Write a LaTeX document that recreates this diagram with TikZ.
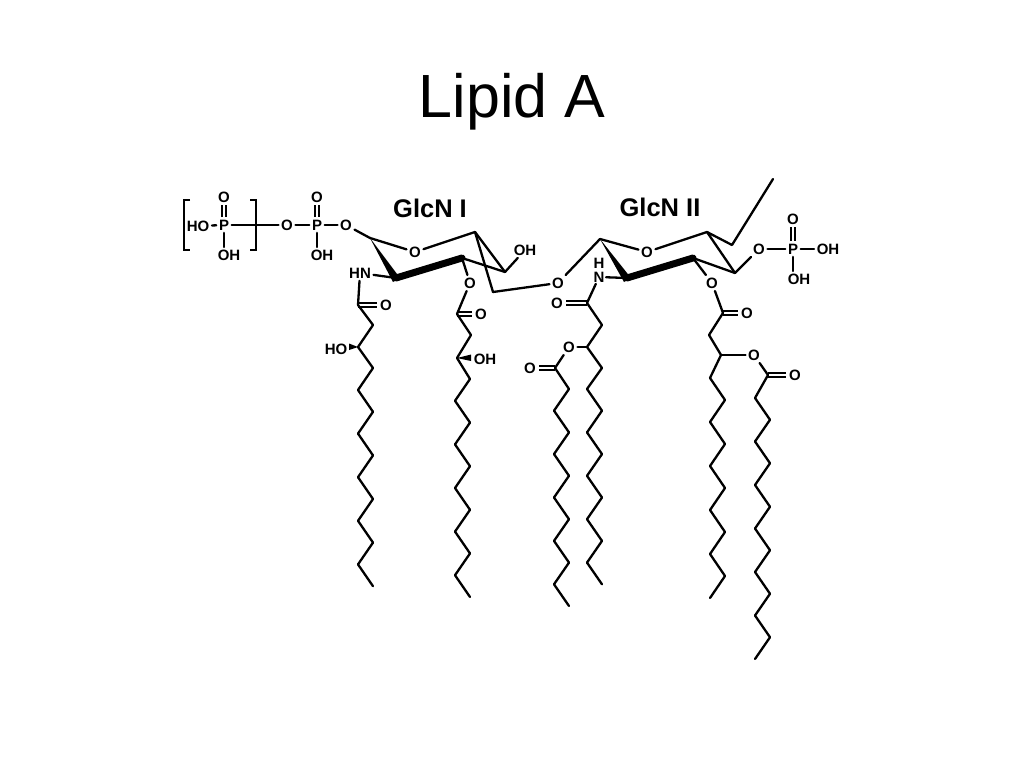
\documentclass[tikz,border=0pt]{standalone}
\usepackage{fontspec}
\setmainfont{Liberation Sans}
\usetikzlibrary{calc}
\tikzset{
  atom/.style={inner sep=2.5pt,font=\fontsize{15}{15}\bfseries\selectfont},
  glcn/.style={inner sep=0pt,font=\fontsize{25.5}{25.5}\bfseries\selectfont},
  bond/.style={line width=2.3pt,line cap=round,line join=round},
  dbond/.style={double,double distance=2.6pt,line width=1.7pt},
  backbone/.style={line width=7pt,line cap=round}
}
% zigzag tail: name, x, dx, y, number of bonds, step
\newcommand{\tailchain}[6]{
  \coordinate (#1-0) at (#2,#4);
  \foreach \i [remember=\i as \j (initially 0)] in {1,...,#5}{
    \coordinate (#1-\i) at ({#2+#3*mod(\i,2)},{#4+#6*\i});
    \draw[bond] (#1-\j) -- (#1-\i);
  }
}
\begin{document}
\begin{tikzpicture}[x=1pt,y=-1pt]
  \useasboundingbox (0,0) rectangle (1024,768);
  \node[inner sep=0pt,font=\fontsize{61}{61}\selectfont] (title) at (512,102) {Lipid A};
  \node[glcn] (glcnI) at (430,208) {GlcN I};
  \node[glcn] (glcnII) at (660,207) {GlcN II};
  % phosphates, left
  \node[atom] (hoA) at (198,226) {HO};
  \node[atom] (pA) at (224,225) {P};
  \node[atom] (oA) at (224,197) {O};
  \node[atom] (ohA) at (229,255) {OH};
  \node[atom] (oB) at (287,225) {O};
  \node[atom] (pB) at (317,225) {P};
  \node[atom] (oC) at (317,197) {O};
  \node[atom] (ohB) at (322,255) {OH};
  \node[atom] (oD) at (346,225) {O};
  \draw[line width=1.6pt] (190,200) -- (184,200) -- (184,250) -- (190,250);
  \draw[line width=1.6pt] (250,200) -- (256,200) -- (256,250) -- (250,250);
  \draw[dbond] (pA) -- (oA);
  \draw[dbond] (pB) -- (oC);
  \draw[bond] (hoA) -- (pA);
  \draw[bond] (pA) -- (ohA.north -| pA);
  \draw[bond] (pA) -- (oB);
  \draw[bond] (oB) -- (pB);
  \draw[bond] (pB) -- (ohB.north -| pB);
  \draw[bond] (pB) -- (oD);
  % ring I
  \coordinate (c1) at (370,238);
  \coordinate (c2) at (396,278);
  \coordinate (c3) at (462,258);
  \coordinate (c4) at (505,272);
  \coordinate (c5) at (475,232);
  \coordinate (c6) at (493,292);
  \node[atom] (oRing) at (415,252) {O};
  \node[atom] (ohRing) at (525,250) {OH};
  \node[atom] (nh) at (360,273) {HN};
  \node[atom] (oEster) at (470,283) {O};
  \node[atom] (oLink) at (558,283) {O};
  \draw[bond] (oD) -- (c1);
  \draw[bond] (c1) -- (oRing);
  \draw[bond] (oRing) -- (c5);
  \fill (c1) -- ($(c2)+(-3,4)$) -- ($(c2)+(4,0)$) -- cycle;
  \draw[backbone] (c2) -- (c3);
  \draw[bond] (c3) -- (c4);
  \draw[bond] (c5) -- (c4);
  \draw[bond] (c5) -- (c6);
  \draw[bond] (c4) -- (ohRing);
  \draw[bond] (c6) -- (oLink);
  \draw[bond] (c3) -- (oEster);
  \draw[bond] (nh) -- (c2);
  % acyl chains on ring I
  \coordinate (d1) at (358,305);
  \coordinate (d2) at (373,325);
  \coordinate (d3) at (358,347);
  \coordinate (d4) at (373,368);
  \node[atom] (oAmide) at (386,305) {O};
  \node[atom] (hoChain) at (336,349) {HO};
  \draw[dbond] (d1) -- (oAmide);
  \draw[bond] (nh) -- (d1);
  \draw[bond] (d1) -- (d2) -- (d3) -- (d4);
  \fill (d3) -- ($(d3)+(-9,-3.5)$) -- ($(d3)+(-9,3)$) -- cycle;
  \tailchain{tailA}{358}{15}{390}{9}{21.8}
  \draw[bond] (d4) -- (tailA-0);
  \coordinate (e1) at (457,314);
  \coordinate (e2) at (471,335);
  \coordinate (e3) at (457,358);
  \node[atom] (oEsterB) at (481,314) {O};
  \node[atom] (ohChain) at (485,359) {OH};
  \draw[dbond] (e1) -- (oEsterB);
  \draw[bond] (oEster) -- (e1);
  \draw[bond] (e1) -- (e2) -- (e3);
  \fill (e3) -- ($(e3)+(14,-3.5)$) -- ($(e3)+(14,3)$) -- cycle;
  \tailchain{tailB}{470}{-15}{379}{10}{21.8}
  \draw[bond] (e3) -- (tailB-0);
  % ring II
  \coordinate (g1) at (600,239);
  \coordinate (g2) at (627,278);
  \coordinate (g3) at (693,258);
  \coordinate (g4) at (735,273);
  \coordinate (g5) at (707,232);
  \coordinate (g6) at (732,245);
  \coordinate (g7) at (773,179);
  \node[atom] (oRingB) at (647,252) {O};
  \node[atom,inner sep=1pt] (hN) at (599,263) {H};
  \node[atom,inner sep=1.5pt] (nN) at (599,277) {N};
  \node[atom] (oPhos) at (759,249) {O};
  \node[atom] (pC) at (793,249) {P};
  \node[atom] (oE) at (793,219) {O};
  \node[atom] (ohC) at (828,249) {OH};
  \node[atom] (ohD) at (799,279) {OH};
  \node[atom] (oEsterC) at (712,283) {O};
  \draw[bond] (oLink) -- (g1);
  \draw[bond] (g1) -- (oRingB);
  \draw[bond] (oRingB) -- (g5);
  \fill (g1) -- ($(g2)+(-3,4)$) -- ($(g2)+(4,0)$) -- cycle;
  \draw[backbone] (g2) -- (g3);
  \draw[bond] (g3) -- (g4);
  \draw[bond] (g5) -- (g4);
  \draw[bond] (g5) -- (g6) -- (g7);
  \draw[bond] (g4) -- (oPhos);
  \draw[dbond] (pC) -- (oE);
  \draw[bond] (oPhos) -- (pC);
  \draw[bond] (pC) -- (ohC);
  \draw[bond] (pC) -- (ohD.north -| pC);
  \draw[bond] (nN) -- (g2);
  \draw[bond] (g3) -- (oEsterC);
  % acyl chains on ring II
  \coordinate (h1) at (587,303);
  \coordinate (h2) at (602,325);
  \coordinate (h3) at (587,347);
  \coordinate (h4) at (602,368);
  \coordinate (h5) at (555,368);
  \node[atom] (oAmideB) at (557,303) {O};
  \node[atom] (oSide) at (569,347) {O};
  \node[atom] (oSideB) at (530,368) {O};
  \draw[dbond] (h1) -- (oAmideB);
  \draw[dbond] (h5) -- (oSideB);
  \draw[bond] (nN) -- (h1);
  \draw[bond] (h1) -- (h2) -- (h3) -- (h4);
  \draw[bond] (h3) -- (oSide);
  \draw[bond] (oSide) -- (h5);
  \tailchain{tailC}{569}{-15}{389}{10}{21.7}
  \draw[bond] (h5) -- (tailC-0);
  \tailchain{tailD}{587}{15}{389}{9}{21.7}
  \draw[bond] (h4) -- (tailD-0);
  \coordinate (k1) at (723,313);
  \coordinate (k2) at (709,335);
  \coordinate (k3) at (721,355);
  \coordinate (k4) at (768,375);
  \node[atom] (oEsterD) at (747,313) {O};
  \node[atom] (oSideC) at (754,355) {O};
  \node[atom] (oSideD) at (795,375) {O};
  \draw[dbond] (k1) -- (oEsterD);
  \draw[dbond] (k4) -- (oSideD);
  \draw[bond] (oEsterC) -- (k1);
  \draw[bond] (k1) -- (k2) -- (k3);
  \draw[bond] (k3) -- (oSideC);
  \draw[bond] (oSideC) -- (k4);
  \tailchain{tailE}{710}{15}{378}{10}{22}
  \draw[bond] (k3) -- (tailE-0);
  \tailchain{tailF}{755}{15}{398}{12}{21.75}
  \draw[bond] (k4) -- (tailF-0);
\end{tikzpicture}
\end{document}
